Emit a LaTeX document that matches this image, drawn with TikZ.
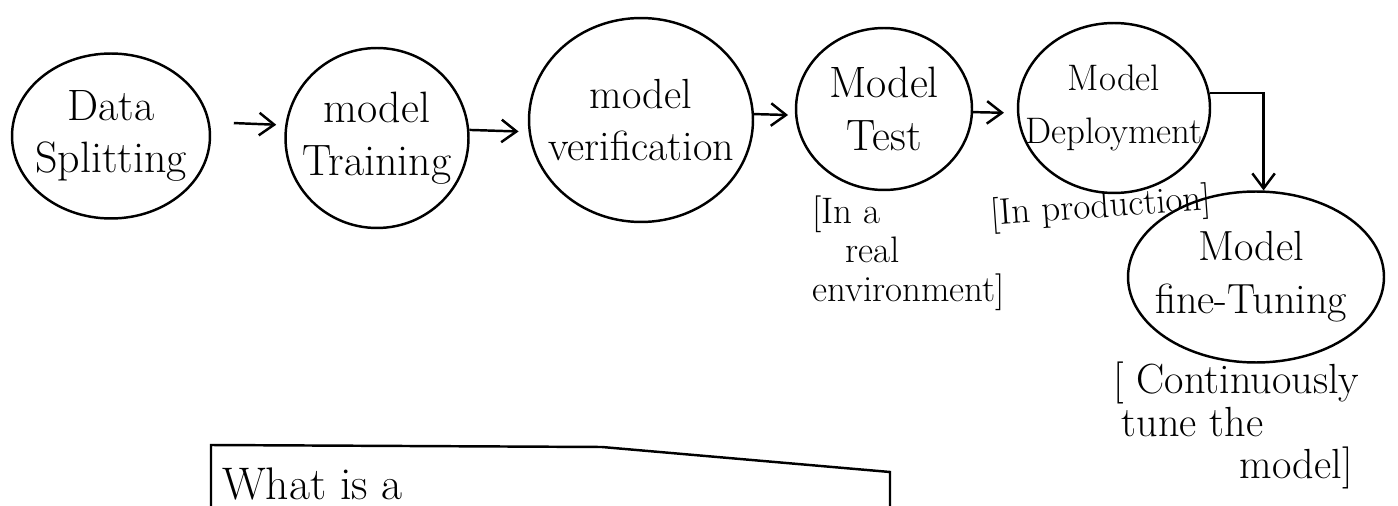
\documentclass[tikz,border=0pt]{standalone}
\usetikzlibrary{shapes.geometric, arrows.meta}

\begin{document}
\begin{tikzpicture}[
        x=0.02cm, y=-0.02cm,
        stage/.style={ellipse, draw, line width=1.4pt, inner sep=0pt},
        stagetext/.style={align=center, inner sep=0pt, font=\fontsize{25}{30}\selectfont},
        note/.style={align=left, inner sep=0pt, font=\fontsize{21}{22}\selectfont},
        arrow/.style={-{Straight Barb[length=3mm, width=4.5mm]}, line width=1.4pt}
    ]
        \useasboundingbox (0,0) rectangle (1398,506);
        \clip (0,0) rectangle (1398,506);

        % Pipeline stages, left to right
        \node[stage, minimum width=3.96cm, minimum height=3.3cm, label={[stagetext]center:Data\\Splitting}] (split) at (111,136) {};
        
        \node[stage, minimum width=3.66cm, minimum height=3.6cm, label={[stagetext]center:model\\Training}] (train) at (377,138) {};
        
        \node[stage, minimum width=4.48cm, minimum height=4.08cm, label={[stagetext, font=\fontsize{24}{30}\selectfont]center:model\\verification}] (verify) at (641,120) {};
        
        \node[stage, minimum width=3.52cm, minimum height=3.24cm, label={[stagetext]center:Model\\Test}] (test) at (884,109) {};
        
        \node[stage, minimum width=3.84cm, minimum height=3.4cm, label={[stagetext, font=\fontsize{21}{30}\selectfont]center:Model\\Deployment}] (deploy) at (1114,108) {};
        
        \node[stage, minimum width=5.12cm, minimum height=3.42cm, label={[stagetext, font=\fontsize{24}{30}\selectfont, xshift=-0.1cm]center:Model\\fine-Tuning}] (tune) at (1256,277) {};
        
        % Arrows between the stages
        \draw[arrow, shorten <=0.48cm, shorten >=0.18cm] (split.8) -- (train.172);
        \draw[arrow, shorten >=0.2cm] (train.5) -- (verify.186);
        \draw[arrow, shorten >=0.14cm] (verify.3) -- (test.184);
        \draw[arrow, shorten >=0.26cm] (test.358) -- (deploy.183);
        \draw[arrow] (deploy.9) -| (tune.85);
        
        % Bracketed notes under the stages
        \node[note, anchor=north west] (realenv) at (812,196) {[In a\\\hspace*{0.9em}real\\environment]};
        \node[note, anchor=west, rotate=4] (prod) at (990,216) {[In production]};
        \node[note, anchor=north west, font=\fontsize{24}{24}\selectfont] (cont) at (1113,362) {[ Continuously\\\hspace*{0.2em}tune the\\\hspace*{3em}model]};
        
        % Question box, cut off at the bottom
        \draw[line width=1.4pt] (211,520) -- (211,445) -- (602,447) -- (890,472) -- (890,520);
        \node[anchor=base west, inner sep=0pt, font=\fontsize{26}{28}\selectfont] (quest) at (222,499) {What is a};
        
    \end{tikzpicture}
\end{document}
